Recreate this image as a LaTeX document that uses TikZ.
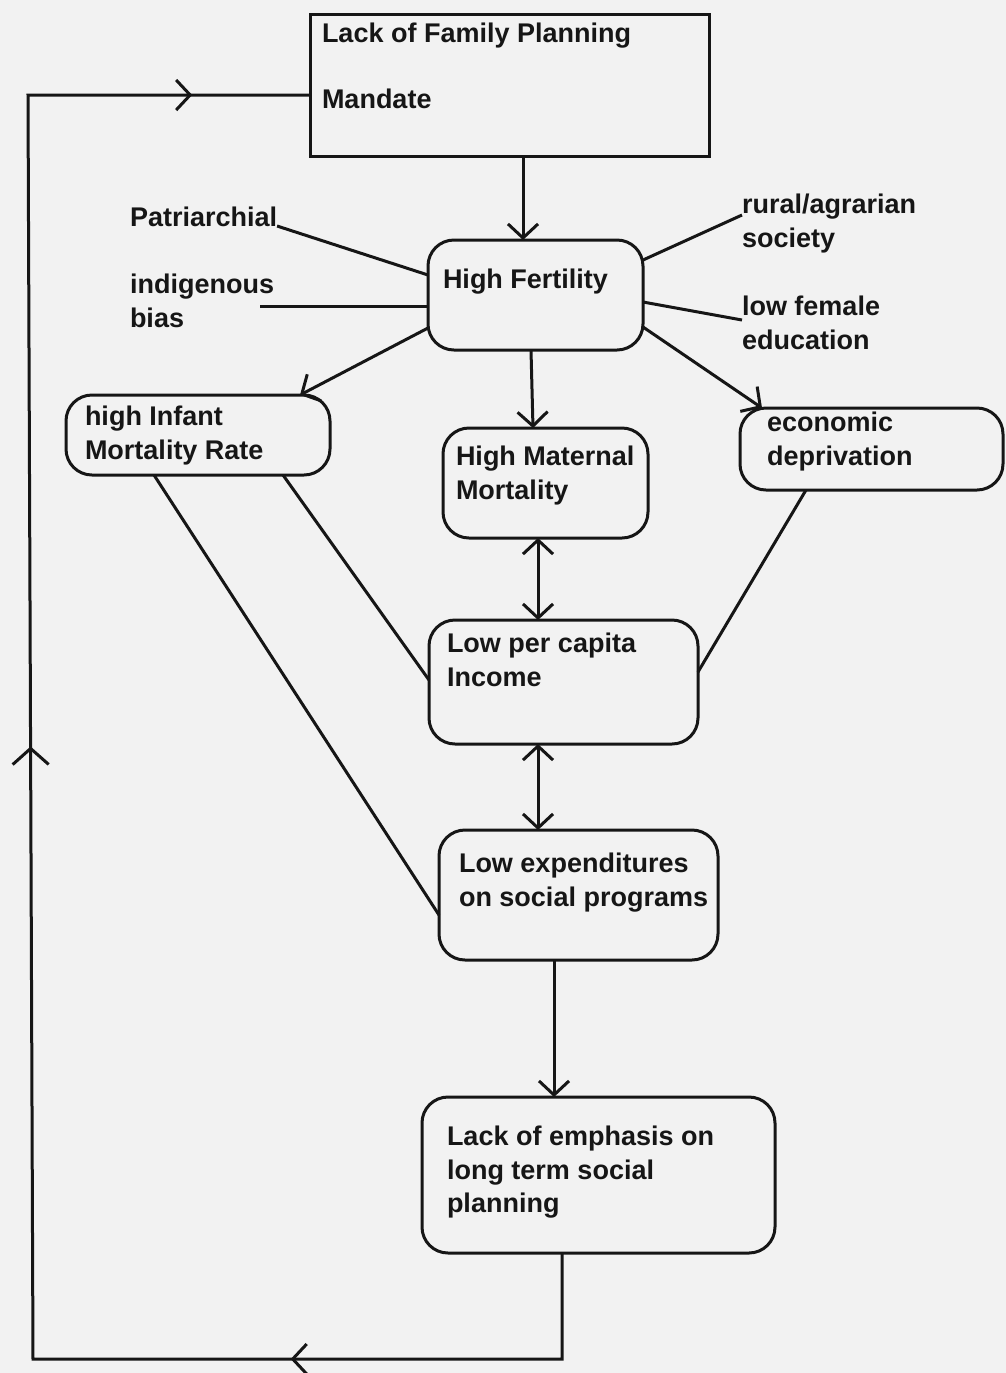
\documentclass[tikz,border=0pt]{standalone}
\usepackage{fontspec}
\setmainfont{Liberation Sans}
\usetikzlibrary{arrows.meta,fit,decorations.markings}
\definecolor{bg}{RGB}{242,242,242}
\definecolor{ink}{RGB}{22,22,22}
\begin{document}
\begin{tikzpicture}[x=0.5pt,y=-0.5pt,
  every node/.style={outer sep=0pt},
  box/.style={draw=ink, line width=1.5pt, inner sep=0pt, fill=bg},
  rbox/.style={box, rounded corners=13pt},
  txt/.style={anchor=north west, inner sep=0pt, yshift=9.5pt, align=left,
    text=ink, font=\bfseries\fontsize{13.5}{16.8}\selectfont,
    execute at begin node={\rule{0pt}{12pt}}},
  conn/.style={draw=ink, line width=1.5pt},
  >={Straight Barb[length=7pt,width=15pt]},
  arr/.style={conn, ->},
  darr/.style={conn, <->},
  midarr/.style={postaction={decorate}, decoration={markings,
    mark=at position 0.173 with {\arrow[line width=1.5pt]{>}},
    mark=at position 0.572 with {\arrow[line width=1.5pt]{Straight Barb[length=8pt,width=18pt]}},
    mark=at position 0.946 with {\arrow[line width=1.5pt]{>}}}}
]
\fill[bg] (0,0) rectangle (1006,1373);
\useasboundingbox (0,0) rectangle (1006,1373);

% boxes
\node[box,  fit={(310,14)(709,156)}]   (plan)   {};
\node[rbox, fit={(428,240)(643,350)}]  (fert)   {};
\node[rbox, fit={(66,395)(330,475)}]   (infant) {};
\node[rbox, fit={(443,428)(648,538)}]  (matern) {};
\node[rbox, fit={(740,408)(1003,490)}] (econ)   {};
\node[rbox, fit={(429,620)(698,744)}]  (income) {};
\node[rbox, fit={(439,830)(718,960)}]  (expend) {};
\node[rbox, fit={(422,1097)(775,1253)}] (emph)  {};

% box texts
\node[txt] (planT)  at (322,42)   {Lack of Family Planning\\[16pt]Mandate};
\node[txt] (fertT)  at (443,283)  {High Fertility};
\node[txt] (infT)   at (85,425)   {high Infant\\Mortality Rate};
\node[txt] (matT)   at (456,465)  {High Maternal\\Mortality};
\node[txt] (econT)  at (767,431)  {economic\\deprivation};
\node[txt] (incT)   at (447,652)  {Low per capita\\Income};
\node[txt] (expT)   at (459,872)  {Low expenditures\\on social programs};
\node[txt] (emphT)  at (447,1145) {Lack of emphasis on\\long term social\\planning};

% free labels
\node[txt] (patr)   at (130,221) {Patriarchial};
\node[txt] (indig)  at (130,293) {indigenous\\bias};
\node[txt] (rural)  at (742,213) {rural/agrarian\\society};
\node[txt] (lowfem) at (742,315) {low female\\education};

% label connectors
\draw[conn] (patr.east |- 0,226) -- (fert.west |- 0,275);
\draw[conn] (260,306) coordinate (indigEnd) -- (fert.west |- 0,306);
\draw[conn] (rural.west |- 0,215) -- (fert.east |- 0,260);
\draw[conn] (lowfem.west |- 0,320) -- (fert.east |- 0,302);

% arrows
\draw[arr] (plan.south -| 523,0) -- (fert.north -| 523,0);
\draw[arr] (fert.west |- 0,328) -- (infant.north -| 300,0);
\draw[arr] (fert.south -| 531,0) -- (matern.north -| 533,0);
\draw[arr] (fert.east |- 0,327) -- (econ.north -| 762,0);
\draw[darr] (matern.south -| 538,0) -- (income.north -| 538,0);
\draw[darr] (income.south -| 538,0) -- (expend.north -| 538,0);
\draw[arr] (expend.south -| 554,0) -- (emph.north -| 554,0);

% plain links
\draw[conn] (infant.south -| 283,0) -- (income.west |- 0,680);
\draw[conn] (infant.south -| 154,0) -- (expend.west |- 0,915);
\draw[conn] (econ.south -| 806,0) -- (income.east |- 0,672);

% feedback loop
\coordinate (lb)  at (562,1359);
\coordinate (lbl) at (33,1359);
\coordinate (ltl) at (28,95);
\draw[conn, midarr] (emph.south -| lb) -- (lb) -- (lbl) -- (ltl) -- (plan.west |- ltl);
\end{tikzpicture}
\end{document}
